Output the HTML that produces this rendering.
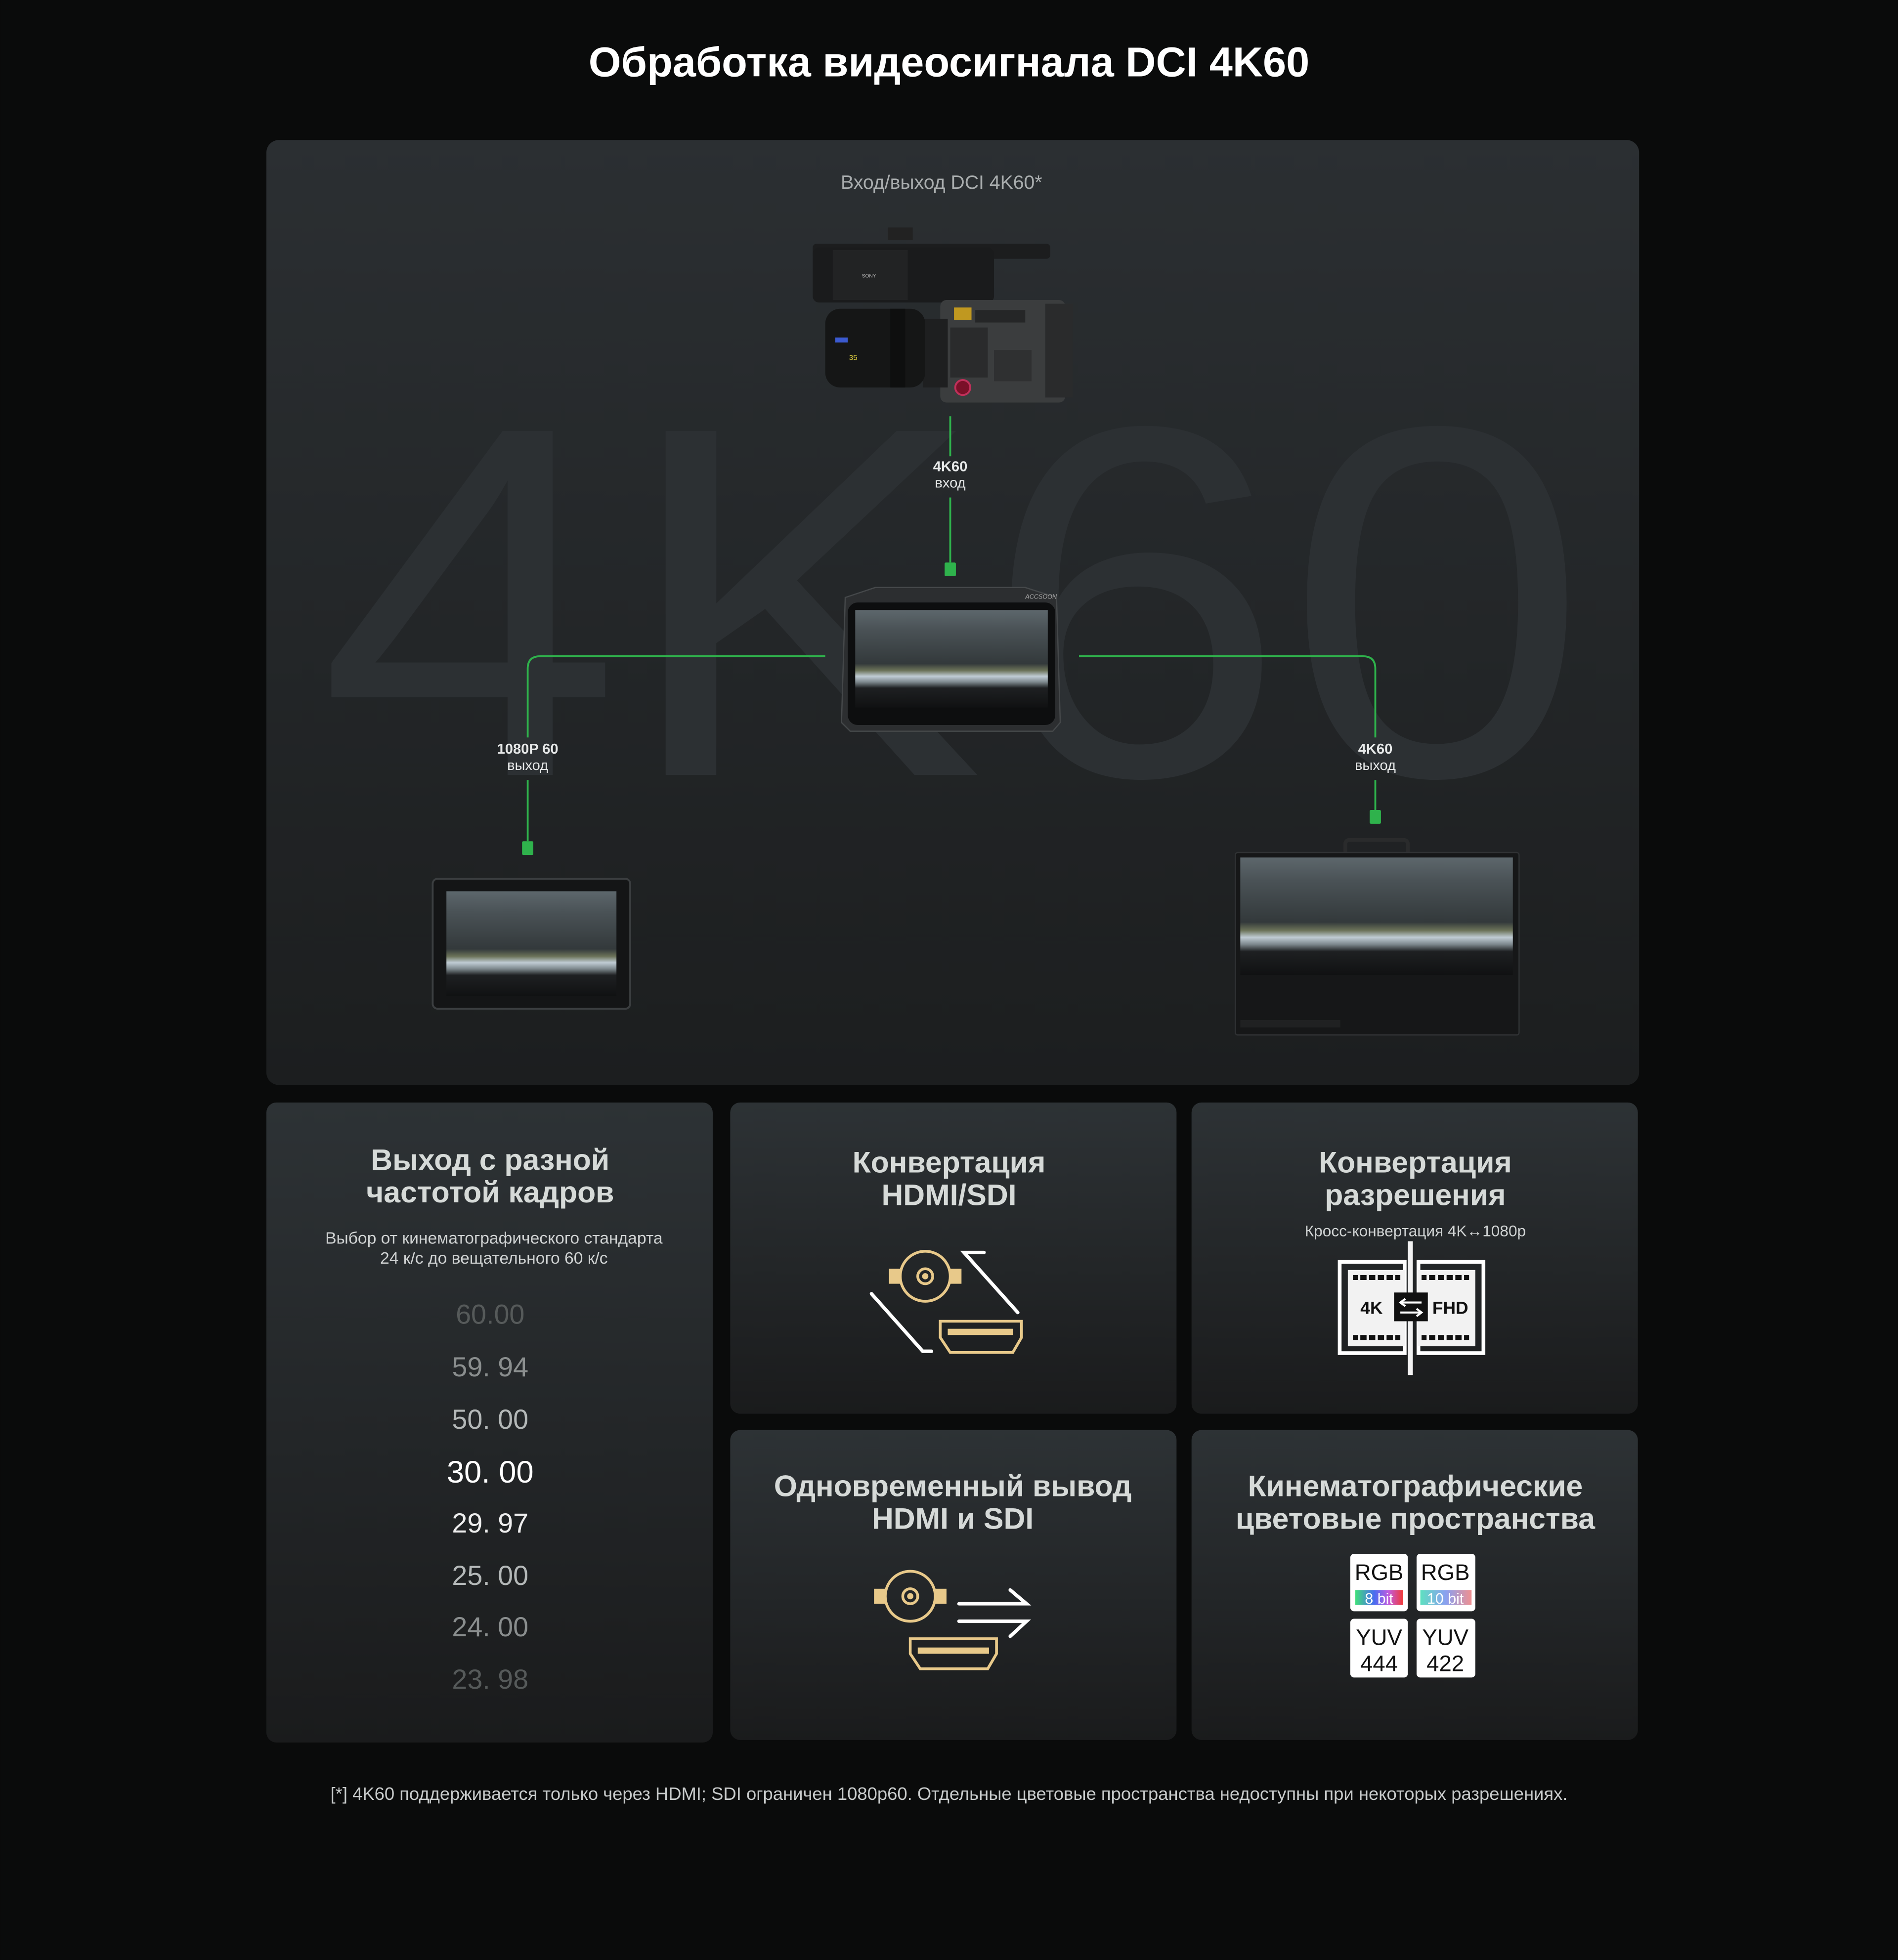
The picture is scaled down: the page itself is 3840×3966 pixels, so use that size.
<!DOCTYPE html>
<html><head><meta charset="utf-8"><style>
html,body{margin:0;padding:0;background:#0a0b0b;}
svg{display:block}
text{font-family:"Liberation Sans",sans-serif}
</style></head><body>
<svg width="3840" height="3966" viewBox="0 0 1518 1568" xmlns="http://www.w3.org/2000/svg">
<defs>
<linearGradient id="pg" x1="0" y1="0" x2="0" y2="1"><stop offset="0" stop-color="#2b2f32"/><stop offset="1" stop-color="#1c1e1f"/></linearGradient>
<linearGradient id="cg" x1="0" y1="0" x2="0" y2="1"><stop offset="0" stop-color="#2d3235"/><stop offset="1" stop-color="#1a1b1c"/></linearGradient>
<linearGradient id="scr" x1="0" y1="0" x2="0" y2="1"><stop offset="0" stop-color="#5d676c"/><stop offset="0.2" stop-color="#4a5256"/><stop offset="0.55" stop-color="#33393b"/><stop offset="0.62" stop-color="#6b7258"/><stop offset="0.68" stop-color="#c0ccd4"/><stop offset="0.74" stop-color="#7c878c"/><stop offset="0.8" stop-color="#1e2022"/><stop offset="1" stop-color="#101112"/></linearGradient>
<linearGradient id="b8" x1="0" x2="1"><stop offset="0" stop-color="#3fe07a"/><stop offset="0.4" stop-color="#4a6cf0"/><stop offset="0.7" stop-color="#c05ce0"/><stop offset="1" stop-color="#f03a3a"/></linearGradient>
<linearGradient id="b10" x1="0" x2="1"><stop offset="0" stop-color="#5ee0c0"/><stop offset="0.5" stop-color="#8aa0f0"/><stop offset="1" stop-color="#f09090"/></linearGradient>
</defs>
<rect width="1518" height="1568" fill="#0a0b0b"/>
<text x="759" y="61" text-anchor="middle" font-size="33.5" font-weight="bold" fill="#fff">Обработка видеосигнала DCI 4K60</text>

<rect x="213" y="112" width="1098" height="756" rx="10" fill="url(#pg)"/>
<text x="255" y="620" font-size="400" fill="#2c3033" textLength="1015" lengthAdjust="spacingAndGlyphs">4K60</text>
<text x="753" y="151" text-anchor="middle" font-size="15.5" fill="#a9adae">Вход/выход DCI 4K60*</text>

<!-- camera -->
<g>
<rect x="650" y="195" width="190" height="12" rx="3" fill="#1c1d1e"/>
<rect x="650" y="198" width="145" height="44" rx="5" fill="#1a1b1c"/>
<rect x="666" y="200" width="60" height="40" fill="#222324"/>
<text x="695" y="222" font-size="4" fill="#bbb" text-anchor="middle">SONY</text>
<rect x="710" y="182" width="20" height="10" fill="#222"/>
<rect x="752" y="240" width="100" height="82" rx="5" fill="#3b3d3e"/>
<rect x="836" y="243" width="22" height="75" fill="#2a2b2c"/>
<rect x="738" y="255" width="20" height="55" fill="#1e1f20"/>
<rect x="660" y="247" width="80" height="63" rx="12" fill="#151616"/>
<rect x="712" y="247" width="12" height="63" fill="#0e0f0f"/>
<rect x="668" y="270" width="10" height="4" fill="#3b5ad0"/>
<text x="679" y="288" font-size="6" fill="#e0d040">35</text>
<circle cx="770" cy="310" r="6" fill="#7a1028" stroke="#c0305a" stroke-width="1.5"/>
<rect x="760" y="262" width="30" height="40" fill="#2a2b2c"/>
<rect x="795" y="280" width="30" height="25" fill="#2f3031"/>
<rect x="780" y="248" width="40" height="10" fill="#252627"/>
<rect x="763" y="246" width="14" height="10" fill="#c09820"/>
</g>

<!-- connectors -->
<g stroke="#2fb24c" stroke-width="1.5" fill="none">
<line x1="760" y1="333" x2="760" y2="365"/>
<line x1="760" y1="398" x2="760" y2="450"/>
<path d="M660 525 H432 Q422 525 422 535 V590"/>
<line x1="422" y1="624" x2="422" y2="673"/>
<path d="M863 525 H1090 Q1100 525 1100 535 V590"/>
<line x1="1100" y1="624" x2="1100" y2="648"/>
</g>
<g fill="#2fb24c">
<rect x="755.5" y="450" width="9" height="11" rx="1"/>
<rect x="417.5" y="673" width="9" height="11" rx="1"/>
<rect x="1095.5" y="648" width="9" height="11" rx="1"/>
</g>
<g font-size="11.5" fill="#e6e8e8" text-anchor="middle">
<text x="760" y="377" font-weight="bold">4K60</text><text x="760" y="390">вход</text>
<text x="422" y="603" font-weight="bold">1080P 60</text><text x="422" y="616">выход</text>
<text x="1100" y="603" font-weight="bold">4K60</text><text x="1100" y="616">выход</text>
</g>

<!-- center monitor -->
<path d="M676 478 L700 470 L820 470 L845 478 L848 578 L842 585 L680 585 L673 578 Z" fill="#2c2e30" stroke="#45484a" stroke-width="1"/>
<rect x="678" y="482" width="166" height="98" rx="8" fill="#0d0e0f"/>
<rect x="684" y="488" width="154" height="78" fill="url(#scr)"/>
<text x="820" y="479" font-size="5" fill="#aaa" font-style="italic">ACCSOON</text>

<!-- small monitor -->
<rect x="346" y="703" width="158" height="104" rx="4" fill="#141516" stroke="#3b3e40" stroke-width="1.5"/>
<rect x="357" y="713" width="136" height="84" fill="url(#scr)"/>

<!-- big monitor -->
<rect x="1076" y="672" width="50" height="12" rx="3" fill="none" stroke="#2a2b2c" stroke-width="3"/>
<rect x="988" y="682" width="227" height="146" rx="2" fill="#161718" stroke="#303234" stroke-width="1"/>
<rect x="992" y="686" width="218" height="94" fill="url(#scr)"/>
<rect x="992" y="816" width="80" height="6" fill="#202122"/>

<!-- bottom cards -->
<rect x="213" y="882" width="357" height="512" rx="8" fill="url(#cg)"/>
<rect x="584" y="882" width="357" height="249" rx="8" fill="url(#cg)"/>
<rect x="953" y="882" width="357" height="249" rx="8" fill="url(#cg)"/>
<rect x="584" y="1144" width="357" height="248" rx="8" fill="url(#cg)"/>
<rect x="953" y="1144" width="357" height="248" rx="8" fill="url(#cg)"/>

<g font-weight="bold" fill="#d6dad8" text-anchor="middle" font-size="24">
<text x="392" y="936">Выход с разной</text><text x="392" y="962">частотой кадров</text>
<text x="759" y="938">Конвертация</text><text x="759" y="964">HDMI/SDI</text>
<text x="1132" y="938">Конвертация</text><text x="1132" y="964">разрешения</text>
<text x="762" y="1197">Одновременный вывод</text><text x="762" y="1223">HDMI и SDI</text>
<text x="1132" y="1197">Кинематографические</text><text x="1132" y="1223">цветовые пространства</text>
</g>
<g font-size="13.3" fill="#d0d3d3" text-anchor="middle">
<text x="395" y="995">Выбор от кинематографического стандарта</text>
<text x="395" y="1011">24 к/с до вещательного 60 к/с</text>
<text x="1132" y="989" font-size="12.5">Кросс-конвертация 4K↔1080p</text>
</g>
<g font-size="22" text-anchor="middle">
<text x="392" y="1059" fill="#565a5a">60.00</text>
<text x="392" y="1101" fill="#8a8e8e">59. 94</text>
<text x="392" y="1143" fill="#b4b8b8">50. 00</text>
<text x="392" y="1186" fill="#fff" font-size="25">30. 00</text>
<text x="392" y="1226" fill="#eeeeee">29. 97</text>
<text x="392" y="1268" fill="#b4b8b8">25. 00</text>
<text x="392" y="1309" fill="#8a8e8e">24. 00</text>
<text x="392" y="1351" fill="#565a5a">23. 98</text>
</g>

<!-- HDMI/SDI icon -->
<g stroke="#e8c98a" fill="none" stroke-width="2.2">
<circle cx="740" cy="1021" r="20"/><circle cx="740" cy="1021" r="6"/>
<path d="M752 1057 H817 V1070 L810 1082 H760 L752 1070 Z"/>
<circle cx="728" cy="1277" r="20"/><circle cx="728" cy="1277" r="6"/>
<path d="M728 1311 H797 V1323 L790 1335 H736 L728 1323 Z"/>
</g>
<g fill="#e8c98a">
<circle cx="740" cy="1021" r="2.5"/><rect x="711" y="1015" width="9" height="12"/><rect x="760" y="1015" width="9" height="12"/>
<rect x="758" y="1063" width="52" height="5"/>
<circle cx="728" cy="1277" r="2.5"/><rect x="699" y="1271" width="9" height="12"/><rect x="748" y="1271" width="9" height="12"/>
<rect x="734" y="1318" width="57" height="5"/>
</g>
<g stroke="#fff" stroke-width="2.8" fill="none" stroke-linecap="round">
<path d="M787 1002 H771 L814 1050"/>
<path d="M697 1035 L738 1081 H745"/>
<path d="M767 1283 H821 L808 1272"/>
<path d="M767 1297 H821 L808 1309"/>
</g>

<!-- resolution icon -->
<g>
<rect x="1071.5" y="1009.5" width="52" height="73" fill="none" stroke="#fff" stroke-width="3"/>
<rect x="1134.5" y="1009.5" width="52" height="73" fill="none" stroke="#fff" stroke-width="3"/>
<rect x="1078" y="1016" width="46" height="61" fill="#f2f2f2"/>
<rect x="1134" y="1016" width="46" height="61" fill="#f2f2f2"/>
<g fill="#111">
<rect x="1082" y="1020" width="38" height="4"/><rect x="1082" y="1068" width="38" height="4"/>
<rect x="1137" y="1020" width="38" height="4"/><rect x="1137" y="1068" width="38" height="4"/>
</g>
<g fill="#f2f2f2">
<rect x="1086" y="1020" width="2" height="4"/><rect x="1093" y="1020" width="2" height="4"/><rect x="1100" y="1020" width="2" height="4"/><rect x="1107" y="1020" width="2" height="4"/><rect x="1114" y="1020" width="2" height="4"/>
<rect x="1086" y="1068" width="2" height="4"/><rect x="1093" y="1068" width="2" height="4"/><rect x="1100" y="1068" width="2" height="4"/><rect x="1107" y="1068" width="2" height="4"/><rect x="1114" y="1068" width="2" height="4"/>
<rect x="1141" y="1020" width="2" height="4"/><rect x="1148" y="1020" width="2" height="4"/><rect x="1155" y="1020" width="2" height="4"/><rect x="1162" y="1020" width="2" height="4"/><rect x="1169" y="1020" width="2" height="4"/>
<rect x="1141" y="1068" width="2" height="4"/><rect x="1148" y="1068" width="2" height="4"/><rect x="1155" y="1068" width="2" height="4"/><rect x="1162" y="1068" width="2" height="4"/><rect x="1169" y="1068" width="2" height="4"/>
</g>
<rect x="1126" y="993" width="4" height="107" fill="#f2f2f2"/>
<rect x="1115" y="1034" width="27" height="23" fill="#111"/>
<path d="M1120 1042 H1137 M1124 1039 L1120 1042 L1124 1045 M1120 1050 H1137 M1133 1047 L1137 1050 L1133 1053" stroke="#fff" stroke-width="1.6" fill="none"/>
<text x="1097" y="1051" font-size="14" font-weight="bold" fill="#111" text-anchor="middle">4K</text>
<text x="1160" y="1051" font-size="14" font-weight="bold" fill="#111" text-anchor="middle">FHD</text>
</g>

<!-- color space badges -->
<g>
<rect x="1080" y="1243" width="46" height="46" rx="3" fill="#fff"/>
<rect x="1133" y="1243" width="47" height="46" rx="3" fill="#fff"/>
<rect x="1080" y="1295" width="46" height="47" rx="3" fill="#fff"/>
<rect x="1133" y="1295" width="47" height="47" rx="3" fill="#fff"/>
<rect x="1084" y="1272" width="38" height="12" fill="url(#b8)"/>
<rect x="1136" y="1272" width="41" height="12" fill="url(#b10)"/>
<g font-size="18" fill="#111" text-anchor="middle">
<text x="1103" y="1264">RGB</text><text x="1156" y="1264">RGB</text>
<text x="1103" y="1316">YUV</text><text x="1156" y="1316">YUV</text>
<text x="1103" y="1337">444</text><text x="1156" y="1337">422</text>
</g>
<g font-size="12" fill="#fff" text-anchor="middle">
<text x="1103" y="1283">8 bit</text><text x="1156" y="1283">10 bit</text>
</g>
</g>

<text x="759" y="1440" text-anchor="middle" font-size="14.4" fill="#c8cbcb">[*] 4K60 поддерживается только через HDMI; SDI ограничен 1080p60. Отдельные цветовые пространства недоступны при некоторых разрешениях.</text>
</svg>
</body></html>
